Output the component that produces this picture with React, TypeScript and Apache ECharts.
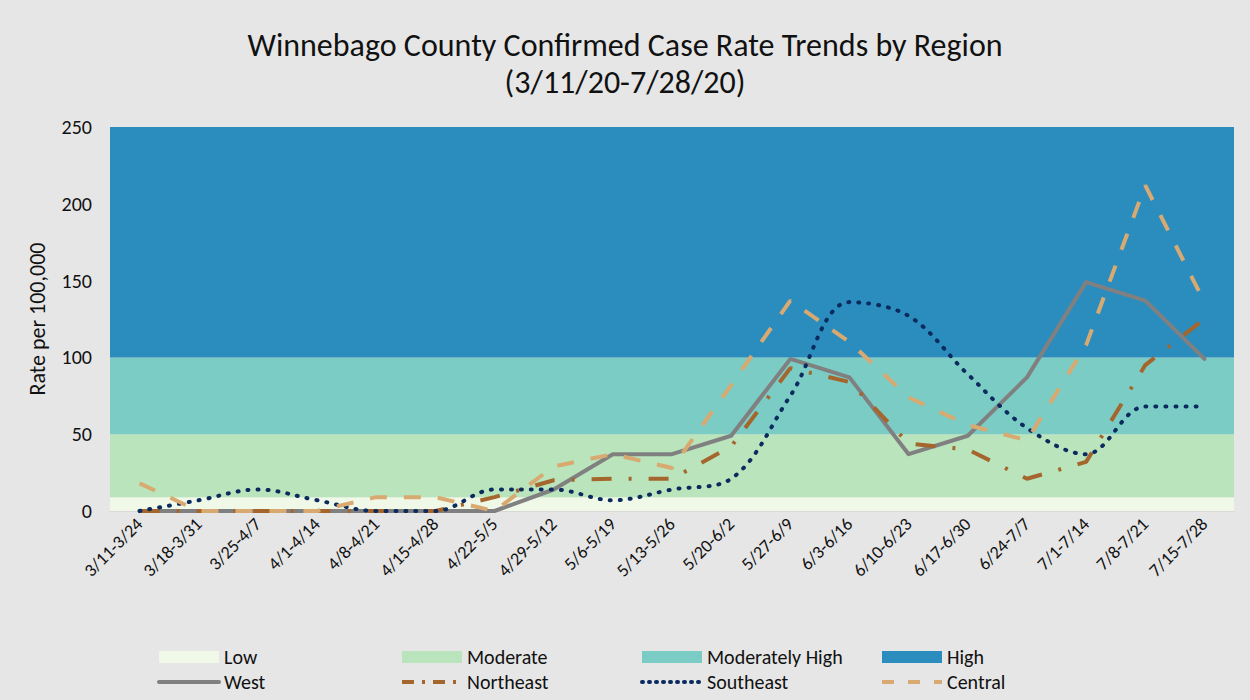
import React, { useEffect, useRef } from "react";
import * as echarts from "echarts";

const categories = [
  "3/11-3/24", "3/18-3/31", "3/25-4/7", "4/1-4/14", "4/8-4/21", "4/15-4/28",
  "4/22-5/5", "4/29-5/12", "5/6-5/19", "5/13-5/26", "5/20-6/2", "5/27-6/9",
  "6/3-6/16", "6/10-6/23", "6/17-6/30", "6/24-7/7", "7/1-7/14", "7/8-7/21", "7/15-7/28",
];

const west = [0, 0, 0, 0, 0, 0, 0, 14, 37, 37, 49, 99, 87, 37, 49, 87, 149, 137, 99];
const northeast = [0, 0, 0, 0, 0, 0, 9, 20, 21, 21, 42, 93, 84, 44, 40, 21, 32, 95, 125];
const southeast = [0, 7, 14, 7, 0, 0, 14, 14, 7, 14, 21, 75, 136, 127, 89, 54, 37, 68, 68];
const central = [18, 0, 0, 0, 9, 9, 0, 29, 37, 28, 82, 137, 110, 74, 56, 46, 108, 212, 136];

const bandNames = ["Low", "Moderate", "Moderately High", "High"];
const bandLower = [0, 9, 50, 100];
const bandUpper = [9, 50, 100, 250];
const bandColors = ["#f0f9e8", "#bae4bc", "#7bccc4", "#2b8cbe"];

const lineNames = ["West", "Northeast", "Southeast", "Central"];

const yMin = 0;
const yMax = 250;
const yInterval = 50;

const FONT = "Carlito, 'Open Sans', 'Noto Sans', sans-serif";

export default function App() {
  const ref = useRef<HTMLDivElement>(null);

  useEffect(() => {
    document.body.style.margin = "0";
    const chart = echarts.init(ref.current!, undefined, { renderer: "svg" });

    const bandSeries = bandNames.map((name, i) => ({
      name,
      type: "line",
      data: categories.map(() => null),
      symbol: "none",
      silent: true,
      z: 1,
      lineStyle: { width: 0 },
      itemStyle: { color: bandColors[i] },
      markArea: {
        silent: true,
        itemStyle: { color: bandColors[i], opacity: 1 },
        data: [[{ yAxis: bandLower[i] }, { yAxis: bandUpper[i] }]],
      },
    }));

    const lineStyles: any[] = [
      { color: "#808080", width: 4, type: "solid", cap: "round", join: "round" },
      { color: "#a5662e", width: 4, type: [20, 17, 3, 17], cap: "butt" },
      { color: "#0b2a5e", width: 4, type: [1, 9], cap: "round" },
      { color: "#d8a970", width: 4, type: [17, 17], cap: "butt" },
    ];
    const legendLineTypes: any[] = ["solid", [12, 8, 3, 8], [1, 6], [12, 14]];
    const lineData = [west, northeast, southeast, central];

    const lineSeries = lineNames.map((name, i) => ({
      name,
      type: "line",
      data: lineData[i],
      symbol: "none",
      smooth: name === "Southeast" ? 0.35 : false,
      z: 3 + i,
      itemStyle: { color: lineStyles[i].color },
      lineStyle: lineStyles[i],
    }));

    const legendLefts = [157, 400, 640, 880];
    const legends = legendLefts.map((left, i) => ({
      orient: "vertical",
      left,
      top: 647,
      padding: 0,
      itemGap: 5,
      itemWidth: 60,
      itemHeight: 12,
      selectedMode: false,
      textStyle: { fontFamily: FONT, fontSize: 20, color: "#111" },
      data: [
        { name: bandNames[i], icon: "rect", itemStyle: { color: bandColors[i] } },
        {
          name: lineNames[i],
          itemStyle: { opacity: 0 },
          lineStyle: { type: legendLineTypes[i], width: 4 },
        },
      ],
    }));

    chart.setOption({
      animation: false,
      backgroundColor: "#e6e6e6",
      title: {
        text: "Winnebago County Confirmed Case Rate Trends by Region\n(3/11/20-7/28/20)",
        left: "center",
        top: 22,
        textStyle: {
          fontFamily: FONT,
          fontSize: 32,
          fontWeight: "normal",
          color: "#111",
          lineHeight: 37,
        },
      },
      legend: legends,
      grid: { left: 110, right: 16, top: 127, bottom: 189, containLabel: false },
      xAxis: {
        type: "category",
        data: categories,
        boundaryGap: true,
        axisTick: { show: false },
        axisLine: { show: true, lineStyle: { color: "#d9d9d9", width: 1 } },
        axisLabel: {
          rotate: 45,
          interval: 0,
          margin: 10,
          fontFamily: FONT,
          fontSize: 18,
          color: "#111",
        },
      },
      yAxis: {
        type: "value",
        min: yMin,
        max: yMax,
        interval: yInterval,
        name: "Rate per 100,000",
        nameLocation: "middle",
        nameGap: 62,
        nameTextStyle: { fontFamily: FONT, fontSize: 22, color: "#111" },
        axisLine: { show: false },
        axisTick: { show: false },
        splitLine: { show: false },
        axisLabel: { margin: 18, fontFamily: FONT, fontSize: 20, color: "#111" },
      },
      series: [...bandSeries, ...lineSeries],
    });

    return () => chart.dispose();
  }, []);

  return <div ref={ref} style={{ width: 1250, height: 700 }} />;
}
